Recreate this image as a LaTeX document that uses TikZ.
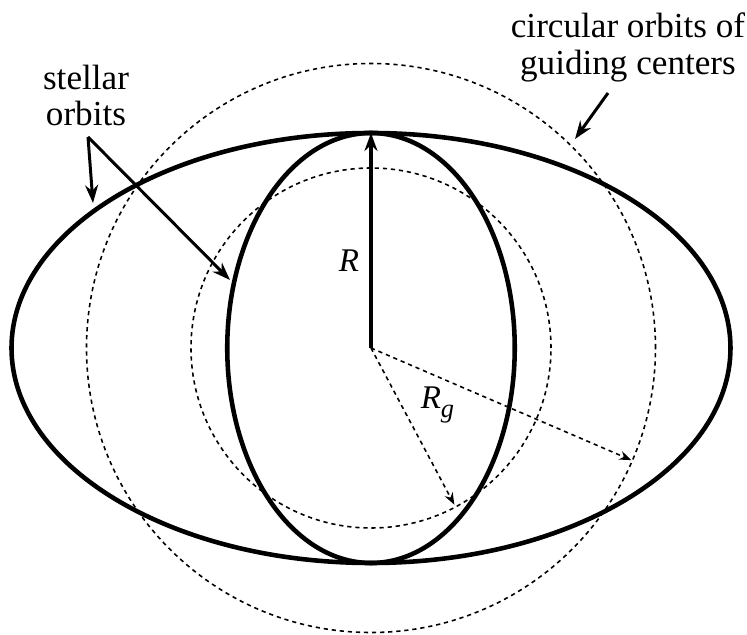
\documentclass[tikz,border=0pt]{standalone}
\usepackage{fontspec}
\setmainfont{Liberation Serif}
\newfontfamily\timesfont{Liberation Serif}
\usetikzlibrary{arrows.meta}
\tikzset{
  orbit/.style={line width=2.6pt},
  guide/.style={line width=0.9pt, dash pattern=on 2.4pt off 2.2pt},
  pointer/.style={line width=1.7pt, -{Stealth[length=0.36cm, width=0.26cm]}},
  radius line/.style={line width=0.9pt, dash pattern=on 2.4pt off 2.2pt, -{Stealth[length=0.24cm, width=0.18cm]}},
  caption/.style={align=center, inner sep=0pt, font=\timesfont\fontsize{20}{21}\selectfont},
  symbol/.style={inner sep=0pt, font=\timesfont\fontsize{18.8}{21}\selectfont\itshape}
}

\begin{document}
\begin{tikzpicture}
\useasboundingbox (-7.42,-5.74) rectangle (7.52,6.96);
\coordinate (O) at (0,0);
% stellar orbits
\draw[orbit] (O) ellipse (7.19 and 4.3);
\draw[orbit] (O) ellipse (2.875 and 4.3);
% guiding center circles
\draw[guide] (O) circle (3.6);
\draw[guide] (O) circle (5.69);

% radii
\coordinate (top) at (0,4.3);
\coordinate (g1) at (-62:3.55);
\coordinate (g2) at (-23.3:5.67);
\draw[pointer, line width=2.2pt] (O) -- (top);
\draw[radius line] (O) -- (g1);
\draw[radius line] (O) -- (g2);
\node[symbol] (R) at (-0.44,1.74) {R};
\node[symbol] (Rg) at (1.33,-1.14) {R\raisebox{-0.25em}{\fontsize{15}{15}\selectfont g}};

% labels
\node[caption] (stellar) at (-5.70,5.05) {stellar\\orbits};
\coordinate (s0) at (-5.66,4.22);
\coordinate (s1) at (-5.56,2.90);
\coordinate (s2) at (-2.82,1.36);
\draw[pointer] (s0) -- (s1);
\draw[pointer] (s0) -- (s2);

\node[caption] (circular) at (5.14,6.02) {circular orbits of\\guiding centers};
\coordinate (c0) at (4.74,5.10);
\coordinate (c1) at (4.08,4.18);
\draw[pointer] (c0) -- (c1);
\end{tikzpicture}
\end{document}
